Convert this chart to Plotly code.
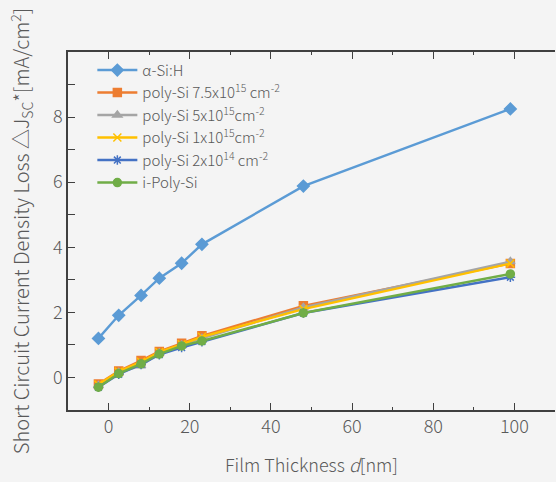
import plotly.graph_objects as go

thickness = [-2.5, 2.5, 8, 12.5, 18, 23, 48, 99]

a_si = [1.20, 1.91, 2.52, 3.05, 3.51, 4.09, 5.88, 8.25]
poly_75e15 = [-0.20, 0.20, 0.52, 0.80, 1.05, 1.28, 2.20, 3.50]
poly_5e15 = [-0.25, 0.15, 0.36, 0.75, 1.00, 1.20, 2.15, 3.56]
poly_1e15 = [-0.22, 0.18, 0.48, 0.78, 1.02, 1.25, 2.10, 3.50]
poly_2e14 = [-0.30, 0.10, 0.40, 0.70, 0.92, 1.10, 1.98, 3.08]
i_poly = [-0.30, 0.12, 0.42, 0.72, 0.97, 1.12, 1.98, 3.18]

y_ticks = [0, 2, 4, 6, 8]

series = [
    ("α-Si:H", a_si, "#5b9bd5", "diamond", 9),
    ("poly-Si 7.5x10<sup>15</sup> cm<sup>-2</sup>", poly_75e15, "#ed7d31", "square", 8),
    ("poly-Si 5x10<sup>15</sup>cm<sup>-2</sup>", poly_5e15, "#a5a5a5", "triangle-up", 8),
    ("poly-Si 1x10<sup>15</sup>cm<sup>-2</sup>", poly_1e15, "#ffc000", "x-thin", 8),
    ("poly-Si 2x10<sup>14</sup> cm<sup>-2</sup>", poly_2e14, "#4472c4", "asterisk", 8),
    ("i-Poly-Si", i_poly, "#70ad47", "circle", 8),
]

FONT = "Noto Sans CJK JP"
TXT = "#595959"
AX = "#404040"

fig = go.Figure()
for name, ys, color, sym, size in series:
    fig.add_trace(go.Scatter(
        x=thickness, y=ys, name=name, mode="lines+markers",
        line=dict(color=color, width=2.4),
        marker=dict(symbol=sym, size=size, color=color,
                    line=dict(color=color, width=1.5)),
    ))

fig.update_layout(
    width=556, height=482,
    margin=dict(l=68, r=1, t=52, b=72),
    paper_bgcolor="#f4f4f4", plot_bgcolor="#f4f4f4",
    font=dict(family=FONT, size=16, color=TXT, weight=300),
    showlegend=True,
    legend=dict(x=0.05, y=0.995, xanchor="left", yanchor="top",
                bgcolor="rgba(0,0,0,0)", font=dict(size=15, color=TXT),
                itemwidth=40, tracegroupgap=0),
    xaxis=dict(
        range=[-10, 110], tick0=0, dtick=20,
        showgrid=False, zeroline=False,
        showline=True, linecolor=AX, linewidth=1.6, mirror="all",
        ticks="inside", ticklen=7, tickcolor=AX,
        minor=dict(dtick=10, tick0=0, ticks="inside", ticklen=3, tickcolor=AX),
        tickfont=dict(size=18, color=TXT),
        title=dict(text="Film Thickness <i>d</i>[nm]", font=dict(size=18, color=TXT), standoff=22),
    ),
    yaxis=dict(
        range=[-1, 10], tickmode="array", tickvals=y_ticks,
        showgrid=False, zeroline=False,
        showline=True, linecolor=AX, linewidth=1.6,
        ticks="inside", ticklen=7, tickcolor=AX,
        minor=dict(dtick=1, tick0=0, ticks="inside", ticklen=7, tickcolor=AX),
        tickfont=dict(size=18, color=TXT),
        title=dict(text="Short Circuit Current Density Loss △J<sub>SC</sub>*[mA/cm<sup>2</sup>]",
                   font=dict(size=20, color=TXT), standoff=18),
    ),
)

fig.write_html("out.html")
